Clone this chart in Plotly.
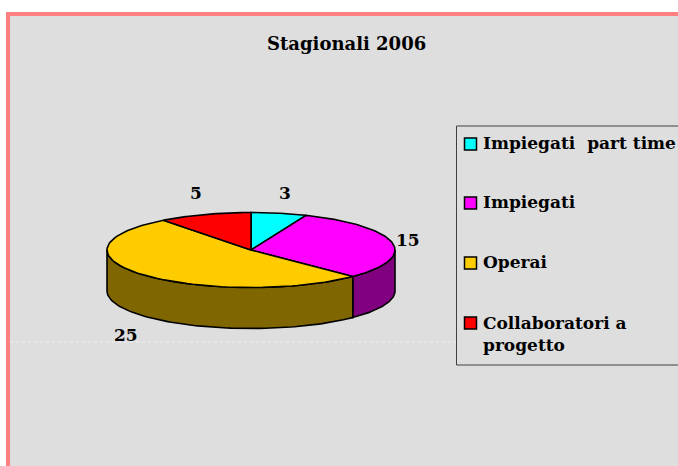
import numpy as np
import plotly.graph_objects as go

categories = ["Impiegati  part time", "Impiegati", "Operai", "Collaboratori a<br>progetto"]
values = [3, 15, 25, 5]
top_colors = ["#00FFFF", "#FF00FF", "#FFCC00", "#FF0000"]
side_colors = ["#008080", "#800080", "#806600", "#800000"]
title_text = "Stagionali 2006"

W, H = 678, 466
CX, CY, RX, RY, DEPTH = 251, 250, 144, 37.5, 41
FONT = "DejaVu Serif"
label_pos = [(285, 193), (408, 240), (126, 335), (196, 193)]
swatch_x = 470.5
swatch_y = [144, 203, 263, 323]
legend_text_x = 483
legend_text_y = [145, 204, 264, 336]


def ell(a, dy=0.0):
    a = np.radians(a)
    return CX + RX * np.sin(a), CY - RY * np.cos(a) + dy


fig = go.Figure()
edges = np.concatenate([[0], np.cumsum(values)]) * 360.0 / sum(values)

# side walls (only the front half of the disc is visible)
for i in range(len(values)):
    a0, a1 = max(edges[i], 90), min(edges[i + 1], 270)
    if a1 <= a0:
        continue
    t = np.linspace(a0, a1, 80)
    xt, yt = ell(t)
    xb, yb = ell(t[::-1], DEPTH)
    fig.add_trace(go.Scatter(
        x=np.r_[xt, xb, xt[0]], y=np.r_[yt, yb, yt[0]], mode="lines", fill="toself",
        fillcolor=side_colors[i], line=dict(color="black", width=1.6),
        showlegend=False, hoverinfo="skip"))

# top face
for i, (name, v) in enumerate(zip(categories, values)):
    t = np.linspace(edges[i], edges[i + 1], 80)
    xt, yt = ell(t)
    fig.add_trace(go.Scatter(
        x=np.r_[CX, xt, CX], y=np.r_[CY, yt, CY], mode="lines", fill="toself",
        fillcolor=top_colors[i], line=dict(color="black", width=1.6),
        showlegend=False, name=name.replace("<br>", " "), text=str(v), hoverinfo="name+text"))

# legend swatches and their texts
fig.add_trace(go.Scatter(
    x=[swatch_x] * len(categories), y=swatch_y, mode="markers",
    marker=dict(symbol="square", size=12, color=top_colors, line=dict(color="black", width=1.5)),
    showlegend=False, hoverinfo="skip"))
fig.add_trace(go.Scatter(
    x=[legend_text_x] * len(categories), y=legend_text_y, mode="text",
    text=[f"<b>{c}</b>" for c in categories], textposition="middle right",
    textfont=dict(family=FONT, size=17, color="black"),
    showlegend=False, hoverinfo="skip"))

for v, (x, y) in zip(values, label_pos):
    fig.add_annotation(x=x, y=y, text=f"<b>{v}</b>", showarrow=False,
                       font=dict(family=FONT, size=17, color="black"))

fig.add_annotation(x=346.5, y=43, text=f"<b>{title_text}</b>", showarrow=False,
                   font=dict(family=FONT, size=18, color="black"))

fig.update_layout(
    width=W, height=H, margin=dict(l=0, r=0, t=0, b=0),
    paper_bgcolor="white", plot_bgcolor="white",
    xaxis=dict(range=[0, W], visible=False, fixedrange=True),
    yaxis=dict(range=[H, 0], visible=False, fixedrange=True),
    showlegend=False,
    shapes=[
        dict(type="rect", layer="below", x0=8, y0=14, x1=W + 20, y1=H + 20,
             fillcolor="#dedede", line=dict(color="#FF8080", width=4)),
        dict(type="line", layer="below", x0=10, y0=342, x1=456, y1=342,
             line=dict(color="#f0f0f0", width=1, dash="dot")),
        dict(type="rect", layer="below", x0=456.5, y0=126, x1=W + 10, y1=365,
             line=dict(color="#404040", width=1)),
    ],
)

fig.write_html("out.html", config={"displayModeBar": False},
               post_script="document.body.style.margin='0';document.body.style.overflow='hidden';")
